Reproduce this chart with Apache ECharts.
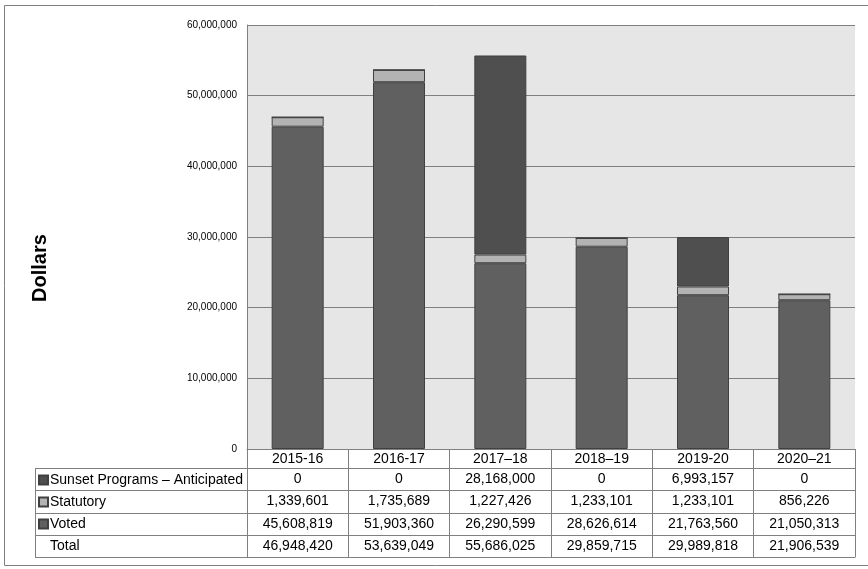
<!DOCTYPE html>
<html>
<head>
<meta charset="utf-8">
<script src="https://cdn.jsdelivr.net/npm/echarts@6/dist/echarts.min.js"></script>
<style>
  html, body { margin: 0; padding: 0; background: #fff; }
  #main { width: 868px; height: 569px; }
</style>
</head>
<body>
<div id="main"></div>
<script>
// 年度
const years = ['2015-16', '2016-17', '2017–18', '2018–19', '2019-20', '2020–21'];
// 各系列数值
const voted = [45608819, 51903360, 26290599, 28626614, 21763560, 21050313];
const statutory = [1339601, 1735689, 1227426, 1233101, 1233101, 856226];
const sunset = [0, 0, 28168000, 0, 6993157, 0];
const totals = [46948420, 53639049, 55686025, 29859715, 29989818, 21906539];
// y 轴刻度
const yTicks = [0, 10000000, 20000000, 30000000, 40000000, 50000000, 60000000];

const fmt = v => Number(v).toLocaleString('en-US');

// 表格布局
const gridLeft = 247, gridBottomY = 449;
const rowOffsets = [19, 41, 64, 86, 108];
const tableLeft = 35;
const lineColor = '#808080';
const font = 'Arial, "Liberation Sans", sans-serif';

var chartDom = document.getElementById('main');
var myChart = echarts.init(chartDom);

// 表格中每一行是一条偏移的 x 轴
const rows = [sunset, statutory, voted, totals];
const rowAxes = rows.map((arr, i) => ({
  type: 'category',
  position: 'bottom',
  offset: rowOffsets[i],
  data: arr.map(fmt),
  axisLine: { show: true, lineStyle: { color: lineColor, width: 1 } },
  axisTick: { show: false },
  axisLabel: { interval: 0, margin: 4, fontSize: 14, color: '#000', fontFamily: font }
}));
rowAxes.push({
  type: 'category',
  position: 'bottom',
  offset: rowOffsets[4],
  data: years,
  axisLine: { show: true, lineStyle: { color: lineColor, width: 1 } },
  axisTick: { show: false },
  axisLabel: { show: false }
});

// 左侧表头线
const leftLines = rowOffsets.map(o => ({
  type: 'line',
  shape: { x1: tableLeft, y1: gridBottomY + o + 0.5, x2: gridLeft, y2: gridBottomY + o + 0.5 },
  style: { stroke: lineColor, lineWidth: 1 }
}));

var option = {
  animation: false,
  backgroundColor: '#fff',
  grid: {
    left: gridLeft,
    right: 13,
    top: 25,
    bottom: 120,
    show: true,
    backgroundColor: '#e6e6e6',
    borderWidth: 0
  },
  legend: {
    orient: 'vertical',
    left: 38,
    top: gridBottomY + rowOffsets[0] + 1,
    icon: 'rect',
    itemWidth: 9,
    itemHeight: 9,
    itemGap: 0,
    padding: 0,
    selectedMode: false,
    data: ['Sunset Programs – Anticipated', 'Statutory', 'Voted'],
    textStyle: { fontSize: 14, color: '#000', fontFamily: font, lineHeight: 22, padding: [0, 0, 0, -3] }
  },
  xAxis: [{
    type: 'category',
    data: years,
    axisLine: { show: true, lineStyle: { color: lineColor, width: 1 } },
    axisTick: { show: true, interval: 0, length: rowOffsets[4], lineStyle: { color: lineColor, width: 1 } },
    axisLabel: { interval: 0, margin: 3, fontSize: 14, color: '#000', fontFamily: font }
  }].concat(rowAxes),
  yAxis: {
    type: 'value',
    min: yTicks[0],
    max: yTicks[yTicks.length - 1],
    interval: yTicks[1] - yTicks[0],
    axisLine: { show: true, lineStyle: { color: lineColor, width: 1 } },
    axisTick: { show: false },
    splitLine: { lineStyle: { color: lineColor, width: 1 } },
    axisLabel: { margin: 10, fontSize: 10, color: '#000', fontFamily: font, formatter: v => fmt(v) }
  },
  series: [
    {
      name: 'Voted', type: 'bar', stack: 'total', data: voted, barWidth: 52,
      itemStyle: { color: '#606060', borderColor: '#404040', borderWidth: 1 }
    },
    {
      name: 'Statutory', type: 'bar', stack: 'total', data: statutory, barWidth: 52,
      itemStyle: { color: '#b3b3b3', borderColor: '#404040', borderWidth: 1 }
    },
    {
      name: 'Sunset Programs – Anticipated', type: 'bar', stack: 'total', data: sunset, barWidth: 52,
      itemStyle: { color: '#4f4f4f', borderColor: '#404040', borderWidth: 1 }
    }
  ],
  graphic: [
    {
      type: 'rect',
      shape: { x: 4.5, y: 5.5, width: 900, height: 560 },
      style: { fill: 'none', stroke: lineColor, lineWidth: 1 },
      silent: true
    },
    {
      type: 'text',
      x: 40, y: 268,
      rotation: Math.PI / 2,
      style: { text: 'Dollars', font: 'bold 20px ' + font, fill: '#000', align: 'center', verticalAlign: 'middle' }
    },
    {
      type: 'line',
      shape: { x1: tableLeft + 0.5, y1: gridBottomY + rowOffsets[0], x2: tableLeft + 0.5, y2: gridBottomY + rowOffsets[4] },
      style: { stroke: lineColor, lineWidth: 1 }
    },
    {
      type: 'text',
      x: 50, y: gridBottomY + (rowOffsets[3] + rowOffsets[4]) / 2,
      style: { text: 'Total', font: '14px ' + font, fill: '#000', verticalAlign: 'middle' }
    }
  ].concat(leftLines)
};

option && myChart.setOption(option);
</script>
</body>
</html>
